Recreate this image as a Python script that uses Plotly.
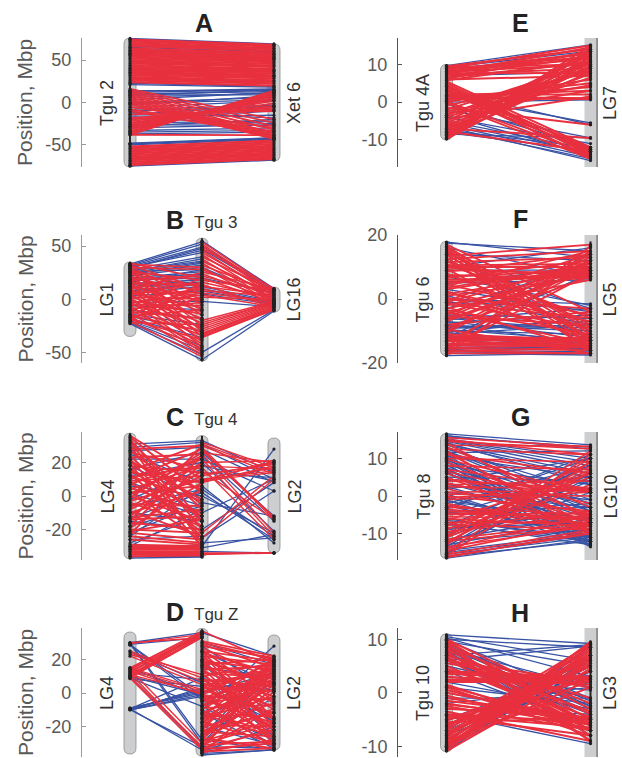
import plotly.graph_objects as go

W, H = 622, 758
BLUE = "#3953a4"
RED = "#e8303f"
PILL = "#ccced0"

# ---- links as (position on left track, position on right track), Mbp ----
A_blue = [(75.5,69),(74,67.5),(65,60),(61,57),(58,54),(56,52),(40,37),(35,31),(22.5,19),(21,18),(14,14),(12,15),(10,13),(8,15),(6,11),(3,12),(0,6),(-3,8),(-6,2),(-10,-5),(-14,-4),(-16,-15),(-20,-10),(-24,-22),(-28,-20),(-33,-30),(-37,-35),(-49,-42),(-48.5,-43),(-48,-41.5),(-50,-43.5),(-75,-68),(-74,-67),(13,16),(9,9),(-1,3),(-8,-3),(-12,-18),(-18,-25),(-26,-27),(-30,-26),(-35,-33)]
A_red_top = [(74,68),(72,66),(70,64),(68,63),(66.5,61),(63.5,58.5),(62,57),(60,55),(58,53),(56,51),(54,49.5),(52,47.5),(50,45.5),(48,43.5),(46,42),(44,39.5),(42,38),(40,36),(38,34),(36,32),(34,30.5),(32,28.5),(30,26),(28,24.5),(26,22.5),(24,20),(-52,-45),(-54,-47),(-56,-49),(-58,-51),(-60,-53),(-62,-55),(-64,-57),(-66,-59),(-68,-61),(-70,-63),(-72,-65),(-73.5,-66.5)]
A_red_mid = [(-38,14),(-36,12),(-34,10),(-32,8),(-30,6),(-28,4),(-26,2),(-24,-1),(-22,-4),(-20,-6),(-18,-8),(-14,-10),(16,-20),(14,-24),(12,-28),(10,-32),(8,-36),(6,-38),(4,-40),(2,-41),(0,-42),(-2,-43),(-5,-30),(-8,-34),(-10,-38),(-38,-38.5)]

B_left_blue = [(33,54),(32,52),(31,49),(30,46),(30,44),(29,48),(28,40),(27,36),(26,38),(26,28),(25,35),(24,32),(23,34),(22,30),(20,26),(19,24),(18,20),(17,22),(16,28),(15,18),(14,16),(12,13),(11,24),(10,20),(8,14),(6,16),(5,12),(3,8),(-3,-2),(-6,-10),(-10,-18),(-14,-24),(-16,-30),(-18,-36),(-20,-44),(-22,-52),(-23,-57),(-21,-48)]
B_left_red = [(34,20),(33,30),(32,10),(31,-5),(30,28),(29,-15),(28,5),(27,-25),(26,18),(25,-10),(24,12),(23,-30),(22,0),(21,-20),(20,8),(19,-35),(18,22),(17,-2),(16,-40),(15,14),(14,-12),(13,-28),(12,3),(11,-45),(10,25),(9,-18),(8,-32),(7,6),(6,-8),(5,-38),(4,16),(3,-22),(2,0),(1,-42),(0,10),(-1,-14),(-2,-48),(-3,4),(-4,-26),(-5,-6),(-6,-50),(-7,20),(-8,-34),(-9,-3),(-10,-44),(-11,12),(-12,-18),(-13,-52),(-14,7),(-15,-30),(-16,-10),(-17,-46),(-18,2),(-19,-38),(-20,15),(-21,-54),(-22,-24)]
B_right_blue = [(55,10),(50,9),(47,8),(-57,-11),(-50,-10),(10,-3),(5,-5),(8,-4),(12,-2),(-2,-7),(30,1),(20,6)]
B_right_red = [(54,9),(52,7),(50,5),(48,10),(46,3),(44,6),(42,0),(40,8),(38,-2),(36,4),(34,-4),(32,7),(30,-6),(28,2),(26,9),(24,-1),(22,5),(20,-3),(18,8),(16,1),(14,-8),(12,4),(10,-5),(8,3),(6,-2),(4,-7),(2,0),(-20,-2),(-22,-3),(-24,-3),(-26,-4),(-28,-5),(-30,-6),(-32,-7),(-33,-8),(-34,-9),(-35,-10),(-36,-10)]

C_left_blue = [(31,33),(29,32),(27,29),(25,8),(22,22),(18,-2),(16,26),(12,20),(8,-6),(6,0),(2,-12),(-2,16),(-6,4),(-10,-15),(-13,2),(-15,-20),(-18,-6),(-22,-4),(-24,5),(-26,-24),(-28,-12),(-30,-8),(-32,-29),(-36,-36),(-37,-36.5),(-30,-30)]
C_left_red = [(36,10),(35,2),(34,-15),(33,-8),(32,-20),(30,-28),(28,30),(27,-5),(26,16),(24,-15),(23,25),(22,-25),(21,-2),(20,4),(19,-30),(18,14),(16,-12),(15,31),(14,8),(13,-22),(12,-3),(11,18),(10,28),(9,12),(8,-18),(7,22),(5,-10),(4,18),(3,-27),(2,6),(1,24),(0,-15),(-1,26),(-3,10),(-4,-18),(-5,-6),(-7,20),(-8,12),(-9,-24),(-10,3),(-12,15),(-13,-8),(-14,-12),(-15,30),(-16,-20),(-18,24),(-19,8),(-20,-22),(-21,-14),(-22,-26),(-23,20),(-24,-28),(-26,-29),(-29,-30),(-30,-30.5),(-31,-31),(-32,-32),(-33,-33),(-34,-34),(-35,-35),(-36,-35.5)]
C_right_blue = [(33,14),(31,10),(28,8),(26,-12),(24,-15),(22,3),(20,-21),(18,9),(14,11),(6,-28),(4,-24),(2,-26),(0,-22),(-33,-34),(-31,-23),(-20,8),(-30,28),(-25,3),(-10,10),(-4,-12),(-28,-25)]
C_right_red = [(32,17),(31,15),(30,13),(29,-13),(28,-14),(27,-12.5),(26,20),(25,-22),(22,-24),(20,21),(18,16),(17,-26),(15,-14),(13,19),(12,20),(10,15),(9.5,20),(9,14),(8.5,17),(8,18),(9,21),(-25,10),(-34,-34),(-35,-34),(-34.5,-34),(-22,12)]

D_left_blue = [(30,36),(29,-2),(28.5,-4),(29.5,-30),(30,-28),(29,33),(25,6),(10,-1),(9,-8),(8.5,4),(-9.5,9),(-10,3),(-9,1),(-10,-2),(-9.5,-34),(-10,-1),(-9.5,2),(-9,0),(12,8),(10,-33),(15,-2),(-10,-32)]
D_left_red = [(30,33),(29.5,35),(15,37),(14.5,36),(14,35),(13,34),(12,36),(11,35),(10.5,33.5),(10,36),(9.5,34),(9,33),(25,9),(24,7),(23,11),(22,5),(15,2),(14,1),(13,-1),(11,0),(10,-32),(12,-33),(9,-34),(14,-30)]
D_right_blue = [(36,22),(-10,28),(30,17),(25,5),(20,-18),(15,10),(10,-26),(5,2),(0,12),(-5,-12),(-10,-28),(-15,6),(-20,-31),(-25,-3),(-28,-34),(-30,13),(-32,-33),(-34,-30),(-35,-20),(-36,-34),(-37,-34),(-33,14),(-26,19),(-12,-33),(-8,-31),(4,-17),(18,-23),(28,0)]
D_right_red = [(37,18),(31,22),(30,20),(29,15),(28,21),(27,8),(26,-5),(25,19),(24.5,-15),(24,12),(23,-20),(22,17),(21,3),(20,-28),(19.5,5),(19,14),(18,-10),(17,20),(16.5,-6),(16,6),(15,-25),(14,16),(13,-2),(12,9),(11.5,-22),(11,-15),(10,18),(9,-30),(8.5,-16),(8,4),(7,11),(6,-8),(5,-22),(4,15),(3,1),(2.5,14),(2,-12),(1,7),(0,-27),(-1,19),(-2,-4),(-2.5,-20),(-3,10),(-4,-18),(-4.5,6),(-5,13),(-6,-32),(-7,2),(-7.5,10),(-8,21),(-9,-7),(-10,16),(-11,-24),(-12,6),(-12.5,-26),(-13,-14),(-14,18),(-15,-2),(-16,11),(-17,-30),(-17.5,16),(-18,9),(-19,-20),(-20,14),(-21,-6),(-22,20),(-22.5,-12),(-23,-26),(-24,5),(-25,-11),(-26,12),(-27,-33),(-27.5,8),(-28,17),(-29,-16),(-30,3),(-30.5,-18),(-31,-29),(-32,8),(-33,-22),(-33.5,-30),(-34,-9),(-35,-33),(-35.5,-28),(-36,1)]

E_blue = [(9.7,15.2),(9.2,13.5),(7,8),(3,-6),(1.5,-5.5),(0,0.6),(-0.5,-12),(-3.5,-14),(-5,-12.5),(-5.5,-13.5),(-6,-14.5),(-6.5,-15.5),(-7,-15),(-7.5,-12),(-8,-13),(-4,-11),(-2,-9.5),(-8.5,-9.5)]
E_red = [(9.5,14),(9,15),(8.8,12),(8.5,13),(8.2,11.5),(8,10),(7.8,14.5),(7.5,13),(7.2,9),(7,12),(6.5,10.5),(6,7),(5.5,-12),(5,-13),(4.5,-14),(4.2,-12.5),(4,-13.5),(3.5,-15),(3.2,-12),(3,-14.5),(2.5,-13),(2,2),(1.8,3),(1.5,1),(1,0.8),(0.8,5),(0.5,4),(0.2,-14),(-0.2,-15),(0,6),(-1,8),(-1.5,-6),(-2,10),(-2.5,4.5),(-3,3),(-3.5,11),(-4,8.5),(-4.5,1.5),(-5,12.5),(-5.5,9.5),(-6,6.5),(-6.5,11),(-7,-9.5),(-7.8,-13),(-8,13),(-8.5,14),(-9,12),(-9.3,15),(-9.6,13.5),(-9.8,11),(-8.2,10.5),(-7.2,9),(-6.8,7.5),(6.2,13.5),(5.8,11),(9.3,10),(7.6,7.8),(-9.5,9.5),(-8.8,8)]

F_blue = [(17.8,13),(17.5,15),(16,7),(14,12),(12,-3),(10,16),(9,9),(7,-2),(5,6),(5,10),(3,-4),(1,-8),(-1,-3),(-3,11),(-5,-6),(-6,-10),(-7,-12),(-7.5,-5),(-8,-14),(-8.5,-9),(-9,-7),(-9.5,-13),(-10,-11),(-10.5,-6),(-11,-8),(-12,-15),(-12,8),(-13,-12),(-14,-14.5),(-15,-16),(-16,-16.5),(-17,-17.5),(-17.7,-17),(-15.5,-15),(-16,-13),(0,-1.5),(-6.5,-3),(-8.2,-10),(-9.2,-8),(-11.5,-14),(-12.5,-16),(-14.5,-15.5),(-16.5,-17)]
F_red = [(17,-4),(16.5,-10),(16,-9),(15.5,-11),(15,-13),(14.5,-8),(14,-14),(13.8,-12),(13.5,17),(13,-16),(12.5,15),(12,-12),(11.5,13),(11,-6),(10.5,11),(10,10),(9.8,7),(9.5,-15),(9,8),(8.5,14),(8,-10),(7.5,6.5),(7,9),(6.5,12),(6,7.5),(5.5,7),(5,8.5),(4.5,-5),(4,15),(3.5,11),(3,10),(2.5,-13),(2,-7),(1.5,9),(1,7),(0.5,-12),(0,-3),(-0.5,14),(-1,11),(-1.2,-6),(-1.5,-9),(-2,8),(-2.5,-16),(-3,6),(-3.5,-11),(-4,-14),(-4.5,10),(-5,12),(-5.5,-8),(-6,13),(-6.5,9.5),(-7,9),(-8,-4),(-9,7),(-9.5,-17),(-10,14),(-10.5,12),(-11,-13),(-11.5,-12.5),(-12,-13),(-12.2,-14),(-12.5,-12),(-13,-13),(-13.2,-14.5),(-13.5,10),(-14,-15),(-14.2,-13),(-14.5,-14),(-15,15),(-15.2,-14.5),(-15.5,-16),(-15.5,8),(-16,12),(-16.2,-17),(-16.5,-15),(-17,-17),(-17.5,16.5)]

G_blue = [(16.5,13.6),(16,12.5),(15.7,13),(15.2,10),(15,9),(14.8,8),(14.5,7),(14.2,3),(13.8,6),(13.5,5),(13,-1),(12.5,1),(12,-2),(11.8,-4),(11.5,12),(11,-12),(10.5,5),(10.2,-6),(10,-12.5),(9.5,-3),(9.2,-8),(9,-10),(8.5,-13),(8.2,-11),(8,3),(7.5,-4),(7.2,-9),(7,-11),(6.5,-13.5),(6.2,-10),(6,-6),(5,4),(4,10),(3.5,-7),(3,-1),(2.5,-8),(2,5),(1,-3),(0.5,-11),(0,-12),(-0.5,-9),(-1,-13),(-1.5,-6),(-2,8),(-2.5,-11),(-3,10),(-3.5,11),(-4,-3),(-4.5,-2),(-5,6),(-6,-12),(-6.5,-11),(-7,-13),(-7.5,-12),(-8,8),(-8.5,-7),(-9,-4),(-10,2),(-11,4),(-11.5,-5),(-12,-9),(-12.5,1),(-13,-6),(-13.5,9),(-14,5),(-14.5,-10),(-15,-10.5),(-15.2,6),(-15.5,-11),(-16,-12),(-16.5,-11.5)]
G_red = [(15.5,13),(15,11),(14.5,12.5),(14,-6),(13.5,13.2),(13,-3),(12.5,11),(12,-10),(11.5,-8),(11,6),(10,9),(9.7,1),(9,-5),(8,7),(7,2),(6.5,-2),(6,-7),(5,-9),(4.5,1),(4,2),(3.5,-5),(3,4),(2.5,1.8),(2,-8),(1,1.5),(0.5,0),(0,-4),(-0.5,2),(-1,1),(-2,-9),(-2.5,-7.5),(-3,-5),(-3.5,-6.5),(-4,-6),(-4.5,-5.5),(-5,-4.5),(-5.5,-6),(-6,-8),(-6.5,6),(-7,-7),(-7.5,-9),(-8,5),(-8.5,-4),(-9,7),(-9.5,-5),(-10,9),(-10.5,6),(-10.8,8),(-11,3),(-11.5,-7),(-12,-8),(-12.2,6.5),(-12.5,10),(-13,12),(-13.5,-8),(-14,-5),(-14.5,-7),(-15,11),(-15.5,-9),(-15.8,9),(-16,-10),(-16.3,-9.5)]

H_blue = [(10.8,9.2),(10.5,6),(10.2,3),(10,8.5),(9.8,-1),(9.6,5),(9.2,-2.5),(9,-4),(8.8,-1.5),(8.6,-6),(8.5,-3),(8.2,1),(8,-5),(7.8,-8),(7.5,-3.5),(7,-2.5),(6.6,-7),(6,-4),(5,-1),(7,9),(6,8.7),(4,-6),(3,0.5),(2,-3),(1,-2),(0,-5),(-1,-1),(-2,1),(-3,-4),(-4,-9.5),(-5,5),(-6,2),(-7,4),(-8,3),(-9,7),(-10,5),(-10.8,6.5),(-10.5,8.5),(-9.5,4)]
H_red = [(10,-3),(9.8,-6),(9.5,-5),(9.2,-9),(9,-8),(8.7,-2),(8.4,-7),(8,-4),(7.7,-9),(7.4,-6),(7,-1),(6.7,-5.5),(6.4,-3.5),(6.2,-7),(6,2),(5.5,1),(5,-6),(4.5,-4.5),(4,3),(3.8,2.8),(3.5,2.5),(3,1.5),(2.5,3),(2.2,2.6),(2,2),(1.5,-7),(1.2,-6),(1,-8),(0.5,-6),(0,-4.8),(-0.5,-7),(-1,-5),(-1.5,-4.8),(-2,-6),(-2.2,-5),(-2.5,-7),(-3,-4.6),(-3.5,-9),(-4,-5.5),(-4.2,-6.5),(-4.5,-8),(-5,4),(-5.2,3),(-5.5,-4.7),(-6,6),(-6.3,7),(-6.6,5),(-7,9),(-7.3,3),(-7.6,8),(-7.8,5),(-8,6.5),(-8.3,8.5),(-8.6,5.5),(-8.8,7),(-9,7.5),(-9.3,9.3),(-9.6,6),(-9.8,8.8),(-10,7),(-10.2,6),(-10.3,9.5),(-10.6,8),(-10.9,4.5),(-10,2.5),(-9,1)]

# ---- panel descriptions ----
panels = [
 dict(letter="A", col=0, top=38, bottom=167, yr=(-76,76), ticks=[-50,0,50],
      gaps=[(0,1,A_blue,A_red_mid,1.8),(0,1,[],A_red_top,2.3)],
      pills=[(0,76,-76),(1,69,-69)], solid=[(0,75.5,-75.5),(1,69,-69)],
      names=[("Tgu 2",107),("Xet 6",294)], sub=None, ty=23),
 dict(letter="B", col=0, top=235, bottom=363, yr=(-60,60.5), ticks=[-50,0,50],
      gaps=[(0,.5,B_left_blue,B_left_red,1.6),(.5,1,B_right_blue,B_right_red,1.5)],
      pills=[(0,35,-35),(.5,57.5,-58),(1,11.5,-12)], solid=[(0,35,-23),(.5,57.5,-58),(1,11.5,-12)],
      names=[("LG1",107),("LG16",294)], sub="Tgu 3", ty=220),
 dict(letter="C", col=0, top=432, bottom=560, yr=(-38.2,38.2), ticks=[-20,0,20],
      gaps=[(0,.5,C_left_blue,C_left_red,1.9),(.5,1,C_right_blue,C_right_red,1.4)],
      pills=[(0,37.5,-37.5),(.5,36,-36),(1,34.6,-34)], solid=[(0,37.5,-37.5),(.5,36,-36)],
      names=[("LG4",107),("LG2",294)], sub="Tgu 4", ty=417),
 dict(letter="D", col=0, top=628, bottom=757, yr=(-38.2,38.8), ticks=[-20,0,20],
      gaps=[(0,.5,D_left_blue,D_left_red,1.4),(.5,1,D_right_blue,D_right_red,1.8)],
      pills=[(0,36.4,-36.4),(.5,38.5,-37.6),(1,34.6,-34)], solid=[(.5,38,-37),(1,22,-34)],
      names=[("LG4",107),("LG2",294)], sub="Tgu Z", ty=612),
 dict(letter="E", col=1, top=38, bottom=167, yr=(-17.2,17), ticks=[-10,0,10],
      gaps=[(0,1,E_blue,E_red,2.0)],
      pills=[(0,10,-10)], solid=[(0,10,-10),(1,15.2,0.5),(1,-12,-15.7)],
      names=[("Tgu 4A",423),("LG7",610)], sub=None, ty=23),
 dict(letter="F", col=1, top=235, bottom=363, yr=(-20,20), ticks=[-20,0,20],
      gaps=[(0,1,F_blue,F_red,1.8)],
      pills=[(0,18,-17.7)], solid=[(0,18,-17.7),(1,18,6),(1,-2,-17.5)],
      names=[("Tgu 6",423),("LG5",610)], sub=None, ty=219),
 dict(letter="G", col=1, top=432, bottom=560, yr=(-17,17), ticks=[-10,0,10],
      gaps=[(0,1,G_blue,G_red,1.6)],
      pills=[(0,16.6,-16.6)], solid=[(0,16.6,-16.6),(1,13.6,-13.6)],
      names=[("Tgu 8",423),("LG10",610)], sub=None, ty=417),
 dict(letter="H", col=1, top=628, bottom=757, yr=(-12,12.1), ticks=[-10,0,10],
      gaps=[(0,1,H_blue,H_red,2.0)],
      pills=[(0,11,-11)], solid=[(0,11,-11),(1,9.7,-9.7)],
      names=[("Tgu 10",423),("LG3",610)], sub=None, ty=613),
]

SCALE = 144.0                 # px per x unit (track 0 -> track 1)
COLS = [dict(axis=82, x0=130, right=300, ax="#9a9a9a", axw=1.4, lab=204),
        dict(axis=398, x0=446.5, right=610, ax="#555555", axw=1.0, lab=520)]
SUB_X = 215.5
LETTER_X_SUB = 175

fig = go.Figure()
shapes, annotations = [], []
layout = {}

for i, p in enumerate(panels, start=1):
    c = COLS[p["col"]]
    xa, ya = f"x{i}", f"y{i}"
    xname, yname = f"xaxis{i}", f"yaxis{i}"
    xr = ((c["axis"] - c["x0"]) / SCALE, (c["right"] - c["x0"]) / SCALE)
    layout[xname] = dict(domain=[c["axis"] / W, c["right"] / W], range=xr, visible=False,
                         anchor=ya, fixedrange=True, automargin=False)
    layout[yname] = dict(domain=[1 - p["bottom"] / H, 1 - p["top"] / H], range=p["yr"],
                         anchor=xa, showgrid=False, zeroline=False, showline=True, automargin=False,
                         linecolor=c["ax"], linewidth=c["axw"], ticks="inside", ticklen=4,
                         tickcolor=c["ax"], tickwidth=c["axw"], tickvals=p["ticks"],
                         ticktext=[str(t) for t in p["ticks"]], ticklabelstandoff=6,
                         tickfont=dict(family="Liberation Sans", size=18, color="#595959"))
    ppu = (p["bottom"] - p["top"]) / (p["yr"][1] - p["yr"][0])
    rx, ry = 6 / SCALE, 6 / ppu
    for (cx, t, b) in p["pills"]:
        path = (f"M {cx-rx} {t-ry} Q {cx-rx} {t} {cx} {t} Q {cx+rx} {t} {cx+rx} {t-ry} "
                f"L {cx+rx} {b+ry} Q {cx+rx} {b} {cx} {b} Q {cx-rx} {b} {cx-rx} {b+ry} Z")
        shapes.append(dict(type="path", path=path, xref=xa, yref=ya, layer="below",
                           fillcolor=PILL, line=dict(color="#808080", width=0.7)))
    if p["col"] == 1:
        shapes.append(dict(type="rect", x0=1-rx, x1=1+rx*1.1, y0=p["yr"][0], y1=p["yr"][1],
                           xref=xa, yref=ya, layer="below", fillcolor=PILL, line=dict(width=0)))
        shapes.append(dict(type="line", x0=1+rx*1.1, x1=1+rx*1.1, y0=p["yr"][0], y1=p["yr"][1],
                           xref=xa, yref=ya, layer="below", line=dict(color="#444444", width=1)))

    dots_x, dots_y = [], []
    for x0, x1, blue, red, rw in p["gaps"]:
        for links, col, w in ((blue, BLUE, 1.3), (red, RED, rw)):
            xs, ys = [], []
            for l, r in links:
                xs += [x0, x1, None]
                ys += [l, r, None]
                dots_x += [x0, x1]
                dots_y += [l, r]
            fig.add_trace(go.Scatter(x=xs, y=ys, mode="lines", xaxis=xa, yaxis=ya,
                                     line=dict(color=col, width=w), hoverinfo="skip",
                                     showlegend=False, cliponaxis=False))
    sx, sy = [], []
    for (cx, t, b) in p["solid"]:
        sx += [cx, cx, None]
        sy += [t, b, None]
    fig.add_trace(go.Scatter(x=sx, y=sy, mode="lines", xaxis=xa, yaxis=ya,
                             line=dict(color="#222222", width=2), hoverinfo="skip",
                             showlegend=False, cliponaxis=False))
    fig.add_trace(go.Scatter(x=dots_x, y=dots_y, mode="markers", xaxis=xa, yaxis=ya,
                             marker=dict(color="#222222", size=3.2), hoverinfo="skip",
                             showlegend=False, cliponaxis=False))

    cy = (p["top"] + p["bottom"]) / 2 + 0.5
    lx = LETTER_X_SUB if p["sub"] else c["lab"]
    annotations.append(dict(text=p["letter"], x=lx / W, y=1 - p["ty"] / H, xref="paper", yref="paper",
                            showarrow=False, xanchor="center", yanchor="middle",
                            font=dict(family="Liberation Sans", size=25, color="#222222", weight="bold")))
    if p["sub"]:
        annotations.append(dict(text=p["sub"], x=SUB_X / W, y=1 - (p["ty"] + 2) / H, xref="paper",
                                yref="paper", showarrow=False, xanchor="center", yanchor="middle",
                                font=dict(family="Liberation Sans", size=17, color="#333333")))
    for name, nx in p["names"]:
        annotations.append(dict(text=name, x=nx / W, y=1 - cy / H, xref="paper", yref="paper",
                                showarrow=False, textangle=-90, xanchor="center", yanchor="middle",
                                font=dict(family="Liberation Sans", size=18, color="#333333")))
    if p["col"] == 0:
        annotations.append(dict(text="Position, Mbp", x=25 / W, y=1 - cy / H, xref="paper", yref="paper",
                                showarrow=False, textangle=-90, xanchor="center", yanchor="middle",
                                font=dict(family="Liberation Sans", size=21, color="#595959")))

fig.update_layout(template="none", width=W, height=H, margin=dict(l=0, r=0, t=0, b=0), autosize=False,
                  paper_bgcolor="white", plot_bgcolor="white", showlegend=False,
                  shapes=shapes, annotations=annotations, **layout)
fig.write_html("out.html", config={"displayModeBar": False},
               post_script="document.body.style.margin='0';document.body.style.overflow='hidden';")
